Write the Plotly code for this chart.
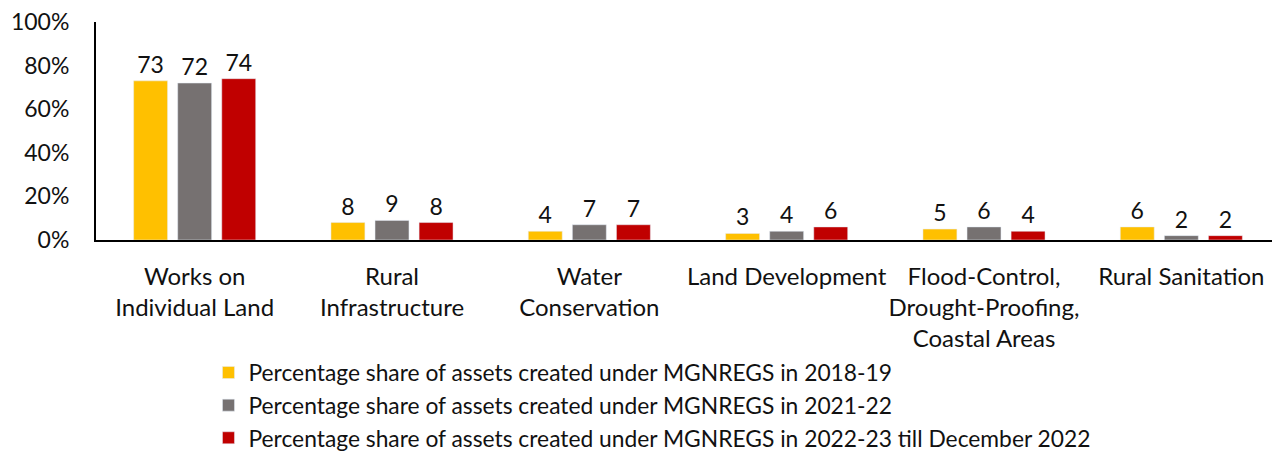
import plotly.graph_objects as go

categories = ["Works on<br>Individual Land", "Rural<br>Infrastructure", "Water<br>Conservation",
              "Land Development", "Flood-Control,<br>Drought-Proofing,<br>Coastal Areas", "Rural Sanitation"]
s2018 = [73, 8, 4, 3, 5, 6]
s2021 = [72, 9, 7, 4, 6, 2]
s2022 = [74, 8, 7, 6, 4, 2]
series_names = [
    "Percentage share of assets created under MGNREGS in 2018-19",
    "Percentage share of assets created under MGNREGS in 2021-22",
    "Percentage share of assets created under MGNREGS in 2022-23 till December 2022",
]
colors = ["#FFC000", "#767171", "#C00000"]

FONT = "Lato"
fig = go.Figure()
for i, (name, vals, col) in enumerate(zip(series_names, [s2018, s2021, s2022], colors)):
    fig.add_trace(go.Bar(
        x=categories, y=vals, name=name, marker_color=col,
        text=[str(v) for v in vals], textposition="outside",
        textfont=dict(size=23, color="#111", family=FONT),
        cliponaxis=False, legendgroup=f"g{i}",
    ))

fig.update_layout(
    width=1280, height=451,
    margin=dict(l=88, r=8, t=14, b=219, autoexpand=False),
    paper_bgcolor="white", plot_bgcolor="white",
    barmode="group", bargap=0.33, bargroupgap=0.23,
    font=dict(family=FONT, size=23, color="#111"),
    showlegend=True,
    legend=dict(orientation="v", x=0.095, xanchor="left", y=-0.51, yanchor="top",
                font=dict(size=22.8, family=FONT, color="#111"),
                traceorder="grouped", tracegroupgap=0,
                bgcolor="rgba(0,0,0,0)"),
)
fig.update_yaxes(range=[0, 100], tickvals=[0, 20, 40, 60, 80, 100],
                 ticktext=["0%", "20%", "40%", "60%", "80%", "100%"],
                 showgrid=False, zeroline=False, showline=True, linecolor="black", linewidth=2,
                 ticks="", ticklabelstandoff=20, automargin=False, ticklabeloverflow="allow",
                 tickfont=dict(size=23, family=FONT, color="#111"))
fig.update_xaxes(showgrid=False, showline=True, linecolor="black", linewidth=2, ticks="",
                 automargin=False, tickangle=0, ticklabeloverflow="allow",
                 tickfont=dict(size=24, family=FONT, color="#111"), ticklabelstandoff=14)

fig.write_html("out.html")
